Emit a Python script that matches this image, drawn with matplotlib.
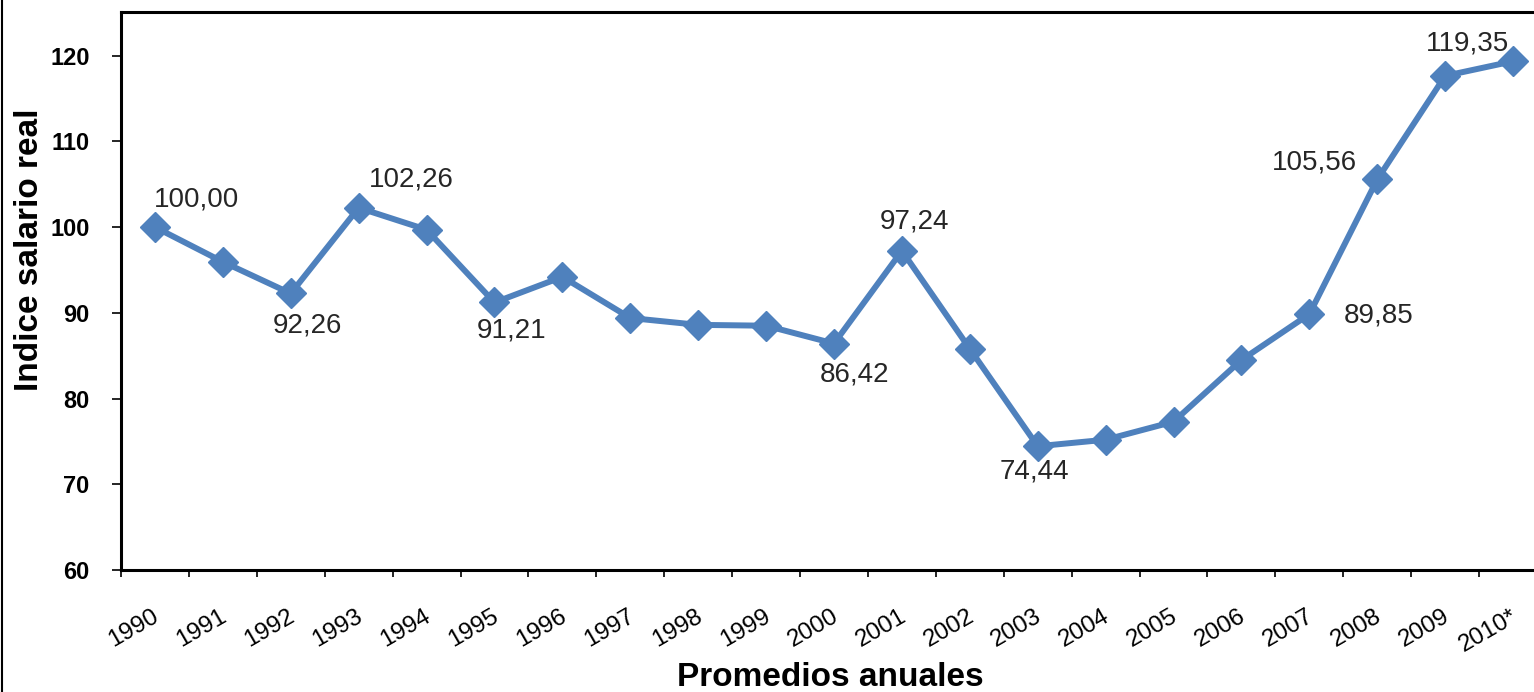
import matplotlib.pyplot as plt
import matplotlib.transforms as mtransforms
from matplotlib.lines import Line2D

plt.rcParams['font.family'] = ['Liberation Sans', 'DejaVu Sans']

# data
years = ['1990', '1991', '1992', '1993', '1994', '1995', '1996', '1997', '1998', '1999',
         '2000', '2001', '2002', '2003', '2004', '2005', '2006', '2007', '2008', '2009', '2010*']
salario = [100.00, 95.95, 92.26, 102.26, 99.7, 91.21, 94.2, 89.4, 88.6, 88.5,
           86.42, 97.24, 85.8, 74.44, 75.2, 77.3, 84.5, 89.85, 105.56, 117.65, 119.35]

# which points get a label, and offset of the label in points
label_idx = [0, 2, 3, 5, 10, 11, 13, 17, 18, 20]
label_off = [(30, 20), (12, -23), (38, 20), (12, -20), (15, -22), (9, 21), (-2, -18), (50, -1), (-45, 12), (-33, 13)]

color = '#4F81BD'

fig = plt.figure(figsize=(15.34, 6.92), dpi=100)
ax = fig.add_axes([121 / 1534, 122 / 692, 1426 / 1534, 558 / 692])

x = list(range(len(years)))
ax.plot(x, salario, color=color, linewidth=4.3, marker='D', markersize=15,
        markeredgecolor=color, markerfacecolor=color)

for i, (dx, dy) in zip(label_idx, label_off):
    txt = f'{salario[i]:.2f}'.replace('.', ',')
    ax.annotate(txt, (x[i], salario[i]), xytext=(dx, dy), textcoords='offset points',
                ha='center', va='center', fontsize=20, color='#262626')

ax.set_xlim(-0.5, len(years) - 0.5)
ax.set_ylim(60, 125.1)
ax.set_yticks([60, 70, 80, 90, 100, 110, 120])
ax.tick_params(axis='y', labelsize=17, length=6.5, width=1.2, pad=16)
for lab in ax.get_yticklabels():
    lab.set_fontweight('bold')

# category axis: ticks at boundaries, labels at centres
ax.set_xticks([i - 0.5 for i in x])
ax.set_xticklabels([])
ax.tick_params(axis='x', length=5, width=1.2)
off = mtransforms.ScaledTranslation(-3 / 100, -35 / 100, fig.dpi_scale_trans)
for i, yr in enumerate(years):
    ax.text(i, 60, yr, rotation=30, ha='right', va='top', rotation_mode='anchor',
            fontsize=17.5, transform=ax.transData + off)

for s in ax.spines.values():
    s.set_linewidth(2.2)

fig.text(830 / 1534, 1 - 677 / 692, 'Promedios anuales', ha='center', va='center',
         fontsize=24, fontweight='bold')
fig.text(30 / 1534, 1 - 250 / 692, 'Indice salario real', ha='center', va='center',
         rotation=90, fontsize=24, fontweight='bold')

fig.add_artist(Line2D([1.5 / 1534, 1.5 / 1534], [0, 1], color='black', linewidth=1.5,
                      transform=fig.transFigure))

fig.savefig('out.png', dpi=100)
